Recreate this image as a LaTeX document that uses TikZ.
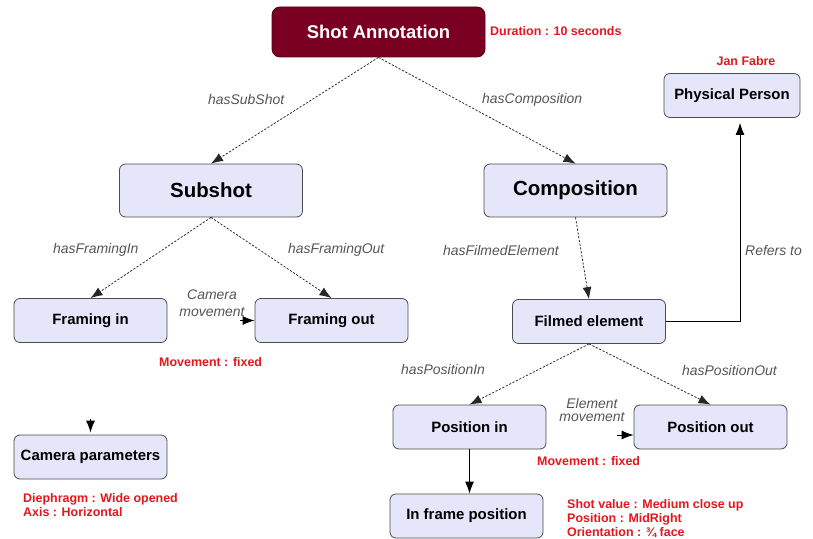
\documentclass[tikz,border=0pt]{standalone}
\usepackage{fontspec}
\setmainfont{Liberation Sans}
\usetikzlibrary{arrows.meta}
\definecolor{lav}{RGB}{230,230,250}
\definecolor{wine}{RGB}{122,0,34}
\definecolor{redtxt}{RGB}{228,22,30}
\definecolor{relgray}{RGB}{85,85,85}
\begin{document}
\begin{tikzpicture}[x=1bp,y=-1bp,
  classbox/.style={draw=black!70,line width=0.8bp,rounded corners=6bp,fill=lav,
    font=\fontsize{15}{18}\selectfont\bfseries,minimum width=153bp,minimum height=44bp,inner sep=0pt},
  bigbox/.style={classbox,font=\fontsize{20.5}{24}\selectfont\bfseries,minimum width=183bp,minimum height=53bp},
  rootbox/.style={draw=wine!70!black,line width=0.8bp,rounded corners=8bp,fill=wine,text=white,
    font=\fontsize{18.5}{21}\selectfont\bfseries,minimum width=213bp,minimum height=50bp,inner sep=0pt},
  rel/.style={font=\fontsize{14}{16}\selectfont\itshape,text=relgray,inner sep=0pt},
  note/.style={font=\fontsize{12.5}{14}\selectfont\bfseries,text=redtxt,inner sep=0pt,align=left},
  tip/.style={-{Latex[length=12bp,width=9bp]}},
  link/.style={draw=black!85,dash pattern=on 2.2bp off 1.6bp,line width=0.75bp,tip},
  solidlink/.style={draw=black,line width=0.9bp,tip}
]
\useasboundingbox (0,0) rectangle (813,539);
\fill[white] (0,0) rectangle (813,539);

% class nodes
\node[rootbox] (shot) at (378.5,32) {Shot Annotation};
\node[bigbox] (sub) at (211,190.5) {Subshot};
\node[bigbox] (comp) at (575.5,190.5) {Composition};
\node[classbox] (fin) at (90.5,320.5) {Framing in};
\node[classbox] (fout) at (331.5,320.5) {Framing out};
\node[classbox] (cam) at (90.5,457) {Camera parameters};
\node[classbox] (film) at (589,321.5) {Filmed element};
\node[classbox,minimum width=136bp] (phys) at (732,95.5) {Physical Person};
\node[classbox] (pin) at (469.5,427) {Position in};
\node[classbox] (pout) at (710.5,427) {Position out};
\node[classbox] (ifp) at (466.5,516) {In frame position};

% free ends of the short movement arrows
\coordinate (camsrc) at (90.5,419);
\coordinate (framesrc) at (240,320.5);
\coordinate (elemsrc) at (617,435);

% relations
\draw[link] (shot.south) -- (sub.north);
\draw[link] (shot.south) -- (comp.north);
\draw[link] (sub.south) -- (fin.north);
\draw[link] (sub.south) -- (fout.north);
\draw[link] (comp.south) -- (film.north);
\draw[link] (film.south) -- (pin.north);
\draw[link] (film.south) -- (pout.north);
\draw[solidlink] (pin.south) -- (pin.south |- ifp.north);
\draw[solidlink,shorten >=5bp] (film.east) -| ([xshift=8bp]phys.south);
\draw[solidlink] (framesrc) -- (framesrc -| fout.west);
\draw[solidlink] (elemsrc) -- (elemsrc -| pout.west);
\draw[solidlink,shorten >=2bp] (camsrc) -- (cam.north);

% relation labels
\node[rel,anchor=west] (lsub) at (208,100) {hasSubShot};
\node[rel,anchor=west] (lcomp) at (482,100) {hasComposition};
\node[rel,anchor=west] (lfin) at (53,250) {hasFramingIn};
\node[rel,anchor=west] (lfout) at (288,250) {hasFramingOut};
\node[rel,anchor=west] (lfilm) at (443,251) {hasFilmedElement};
\node[rel,anchor=west] (lref) at (745,251) {Refers to};
\node[rel,anchor=west] (lpin) at (401,370) {hasPositionIn};
\node[rel,anchor=west] (lpout) at (682,371) {hasPositionOut};
\node[rel,align=center,font=\fontsize{14}{17}\selectfont\itshape] (lcammov) at (212,303.5) {Camera\\movement};
\node[rel,align=center,font=\fontsize{14}{14}\selectfont\itshape] (lelemmov) at (592,410) {Element\\movement};

% red annotations
\node[note,anchor=west] (ndur) at (490,31) {Duration : 10 seconds};
\node[note] (njan) at (746,61) {Jan Fabre};
\node[note,anchor=west] (nfmov) at (159,362) {Movement : fixed};
\node[note,anchor=west] (nemov) at (537,461) {Movement : fixed};
\node[note,anchor=north west] (ncam) at (23,493.5) {Diephragm : Wide opened\\Axis : Horizontal};
\node[note,anchor=north west] (npos) at (567,499) {Shot value : Medium close up\\Position : MidRight\\Orientation : ¾ face};
\end{tikzpicture}
\end{document}
